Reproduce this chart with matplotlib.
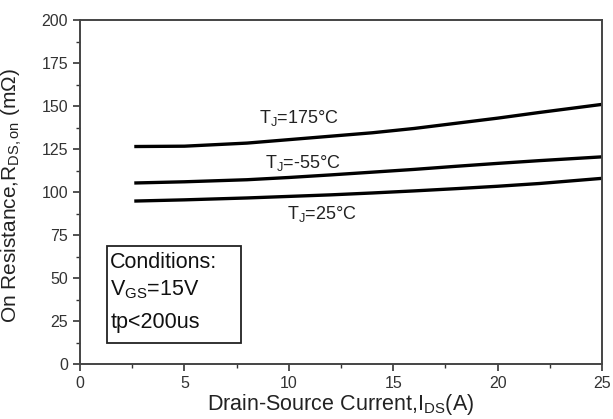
import matplotlib
matplotlib.use('Agg')
import matplotlib.pyplot as plt
from matplotlib.patches import Rectangle
from matplotlib.ticker import MultipleLocator

plt.rcParams['font.family'] = ['Liberation Sans', 'DejaVu Sans']
plt.rcParams['mathtext.fontset'] = 'custom'
plt.rcParams['mathtext.rm'] = 'Liberation Sans'
plt.rcParams['mathtext.it'] = 'Liberation Sans'

# drain current (A)
i_ds = [2.6, 5, 8, 10, 12, 14, 16, 18, 20, 22, 25]
# on resistance (mOhm) per junction temperature
r_175 = [126.5, 126.7, 128.5, 130.5, 132.5, 134.5, 137, 140, 143, 146.3, 151]
r_m55 = [105.3, 106, 107.2, 108.5, 110, 111.6, 113.2, 115, 116.7, 118.3, 120.5]
r_25 = [94.8, 95.5, 96.6, 97.5, 98.4, 99.5, 100.7, 102, 103.4, 105, 108]

fig = plt.figure(figsize=(6.13, 4.19), dpi=100)
ax = fig.add_axes([0.1305, 0.131, 0.8515, 0.821])

for r in (r_175, r_m55, r_25):
    ax.plot(i_ds, r, color='black', lw=2.4, solid_capstyle='butt')

ax.set_xlim(0, 25)
ax.set_ylim(0, 200)
ax.xaxis.set_major_locator(MultipleLocator(5))
ax.xaxis.set_minor_locator(MultipleLocator(2.5))
ax.yaxis.set_major_locator(MultipleLocator(25))
ax.yaxis.set_minor_locator(MultipleLocator(12.5))
ax.tick_params(which='major', direction='out', length=5, width=1.2,
               labelsize=11.5, colors='#333333')
ax.tick_params(which='minor', direction='out', length=3, width=1.0, colors='#333333')
for s in ax.spines.values():
    s.set_color('#444444')
    s.set_linewidth(1.4)

ax.text(10.5, 143, r'T$_{\rm J}$=175°C', fontsize=13, ha='center', va='center', color='#222222')
ax.text(10.7, 117, r'T$_{\rm J}$=-55°C', fontsize=13, ha='center', va='center', color='#222222')
ax.text(11.6, 87.5, r'T$_{\rm J}$=25°C', fontsize=13, ha='center', va='center', color='#222222')

# conditions box
ax.add_patch(Rectangle((1.29, 12.2), 6.42, 56.4, fill=False, ec='#222222', lw=1.3, zorder=3))
ax.text(1.45, 59, 'Conditions:', fontsize=15.5, ha='left', va='center', color='#111111')
ax.text(1.45, 43, r'V$_{\rm GS}$=15V', fontsize=15.5, ha='left', va='center', color='#111111')
ax.text(1.45, 24, 'tp<200us', fontsize=15.5, ha='left', va='center', color='#111111')

ax.set_xlabel(r'Drain-Source Current,I$_{\rm DS}$(A)', fontsize=15.5, color='#222222')
ax.set_ylabel(r'On Resistance,R$_{\rm DS,on}$ (m$\Omega$)', fontsize=15, color='#222222')
ax.xaxis.set_label_coords(0.5, -0.08, transform=ax.transAxes)
ax.yaxis.set_label_coords(-0.107, 0.49, transform=ax.transAxes)

fig.savefig('out.png', dpi=100, facecolor='white')
